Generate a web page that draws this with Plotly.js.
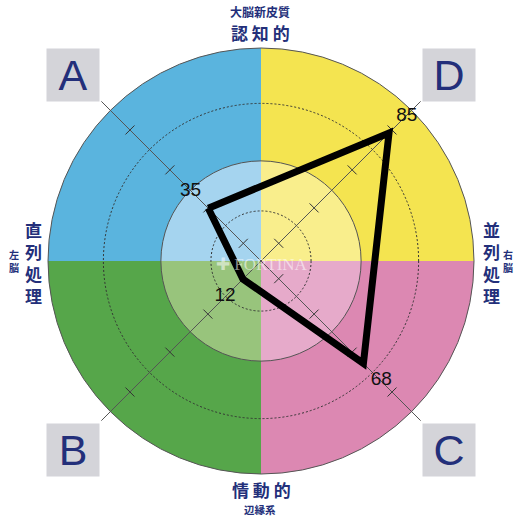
<!DOCTYPE html>
<html>
<head>
<meta charset="utf-8">
<script src="https://cdn.plot.ly/plotly-3.0.1.min.js"></script>
<style>
html,body{margin:0;padding:0;background:#fff;}
#chart{width:514px;height:517px;}
</style>
</head>
<body>
<div id="chart"></div>
<script>
// ---- data ----
const categories = ['A', 'D', 'C', 'B'];
const values = [35, 85, 68, 12];
const categoryAngles = [135, 45, 315, 225];
const quadrantAngles = [135, 45, 315, 225];
const quadrantOuterColors = ['#5ab4de', '#f4e450', '#dc88b2', '#56a64a'];
const quadrantInnerColors = ['#a5d4ef', '#f9ee8c', '#e6aaca', '#98c47c'];
const outerLevel = 100;
const innerLevel = 47;
const dottedRings = [23.5, 74];
const solidRings = [47, 100];
const tickLevels = [11.75, 35.25, 60.5, 87];
const valueTextPositions = ['top left', 'top right', 'bottom right', 'bottom left'];

const W = 514, H = 517;
const navy = '#232f7a';
const jp = '"Noto Sans CJK JP", "Noto Sans CJK SC", sans-serif';

// polygon closed
const polyR = values.concat([values[0]]);
const polyT = categoryAngles.concat([categoryAngles[0]]);

// diagonal tick marks
const tickR = [], tickT = [], tickSym = [];
categoryAngles.forEach(a => {
  tickLevels.forEach(l => {
    tickR.push(l); tickT.push(a);
    tickSym.push((a === 45 || a === 225) ? 'line-nw' : 'line-ne');
  });
});

const traces = [
  {type:'barpolar', subplot:'polar', r: quadrantAngles.map(() => outerLevel), theta: quadrantAngles,
   width: quadrantAngles.map(() => 90), marker:{color: quadrantOuterColors, line:{width:0}}, hoverinfo:'skip'},
  {type:'barpolar', subplot:'polar', r: quadrantAngles.map(() => innerLevel), theta: quadrantAngles,
   width: quadrantAngles.map(() => 90), marker:{color: quadrantInnerColors, line:{width:0}}, hoverinfo:'skip'},
  {type:'scatterpolar', subplot:'polar2', mode:'markers', r: tickR, theta: tickT,
   marker:{symbol: tickSym, size: 9, color:'#333', line:{width:1, color:'#333'}}, hoverinfo:'skip'},
  {type:'scatterpolar', subplot:'polar3', mode:'lines', r: polyR, theta: polyT,
   line:{color:'#000', width:7}, hoverinfo:'skip'},
  {type:'scatterpolar', subplot:'polar3', mode:'markers+text', r: values, theta: categoryAngles,
   text: values.map(String), textposition: valueTextPositions,
   marker:{size:10, opacity:0},
   textfont:{family:'"Liberation Sans", Arial, sans-serif', size:19, color:'#111'}, hoverinfo:'skip'}
];

const maxR = 106;
const cx = 261, cy = 261, rpx = 213 * maxR / 100;
const dom = {x:[(cx - rpx)/W, (cx + rpx)/W], y:[(H - cy - rpx)/H, (H - cy + rpx)/H]};

function polarBase(opts) {
  return Object.assign({
    domain: dom,
    bgcolor: 'rgba(0,0,0,0)',
    barmode: 'overlay',
    radialaxis: {range:[0, maxR], showline:false, showticklabels:false, ticks:'', showgrid:false},
    angularaxis: {direction:'counterclockwise', rotation:0, showline:false, showticklabels:false, ticks:'', showgrid:false}
  }, opts);
}

const px = x => x / W;
const py = y => 1 - y / H;

const annotations = [];
function addText(t, x, y, size, extra) {
  annotations.push(Object.assign({text:t, x:px(x), y:py(y), xref:'paper', yref:'paper', showarrow:false,
    xanchor:'center', yanchor:'middle', borderpad:0, font:{family:jp, size:size, color:navy, weight:700}}, extra || {}));
}
addText('大脳新皮質', 260, 12, 12);
addText('認 知 的', 260, 32, 17);
addText('情 動 的', 261, 490, 17);
addText('辺縁系', 260, 509, 10.5);
addText('直<br>列<br>処<br>理', 33, 262, 17);
addText('並<br>列<br>処<br>理', 491, 262, 17);
addText('左<br>脳', 14, 261, 10);
addText('右<br>脳', 508, 261, 10);

const boxes = [['A', 73, 75], ['D', 449, 75], ['B', 73, 450], ['C', 449, 450]];
boxes.forEach(b => {
  annotations.push({text:b[0], x:px(b[1]), y:py(b[2]), xref:'paper', yref:'paper', showarrow:false,
    xanchor:'center', yanchor:'middle', width:52, height:52, valign:'middle', align:'center',
    bgcolor:'#d4d4d9', borderpad:0,
    font:{family:'"Liberation Sans", Arial, sans-serif', size:43, color:navy}});
});

annotations.push({text:'✚ FORTINA', x:px(262), y:py(264), xref:'paper', yref:'paper', showarrow:false,
  xanchor:'center', yanchor:'middle', font:{family:'"Liberation Serif", serif', size:17, color:'rgba(255,255,255,0.55)'}});

const layout = {
  width: W, height: H,
  margin: {l:0, r:0, t:0, b:0},
  paper_bgcolor: '#fff',
  showlegend: false,
  polar: polarBase({}),
  polar2: polarBase({
    radialaxis: {range:[0, maxR], showline:false, showticklabels:false, ticks:'', showgrid:true,
      tickmode:'array', tickvals: dottedRings, gridcolor:'#333', gridwidth:1, griddash:'2px,2px'},
    angularaxis: {direction:'counterclockwise', rotation:0, showline:false, showticklabels:false, ticks:'',
      showgrid:true, tickmode:'array', tickvals: categoryAngles, gridcolor:'#555', gridwidth:1}
  }),
  polar3: polarBase({
    radialaxis: {range:[0, maxR], showline:false, showticklabels:false, ticks:'', showgrid:true,
      tickmode:'array', tickvals: solidRings, gridcolor:'#555', gridwidth:1}
  }),
  annotations: annotations
};

Plotly.newPlot('chart', traces, layout, {staticPlot:true, displayModeBar:false});
</script>
</body>
</html>
